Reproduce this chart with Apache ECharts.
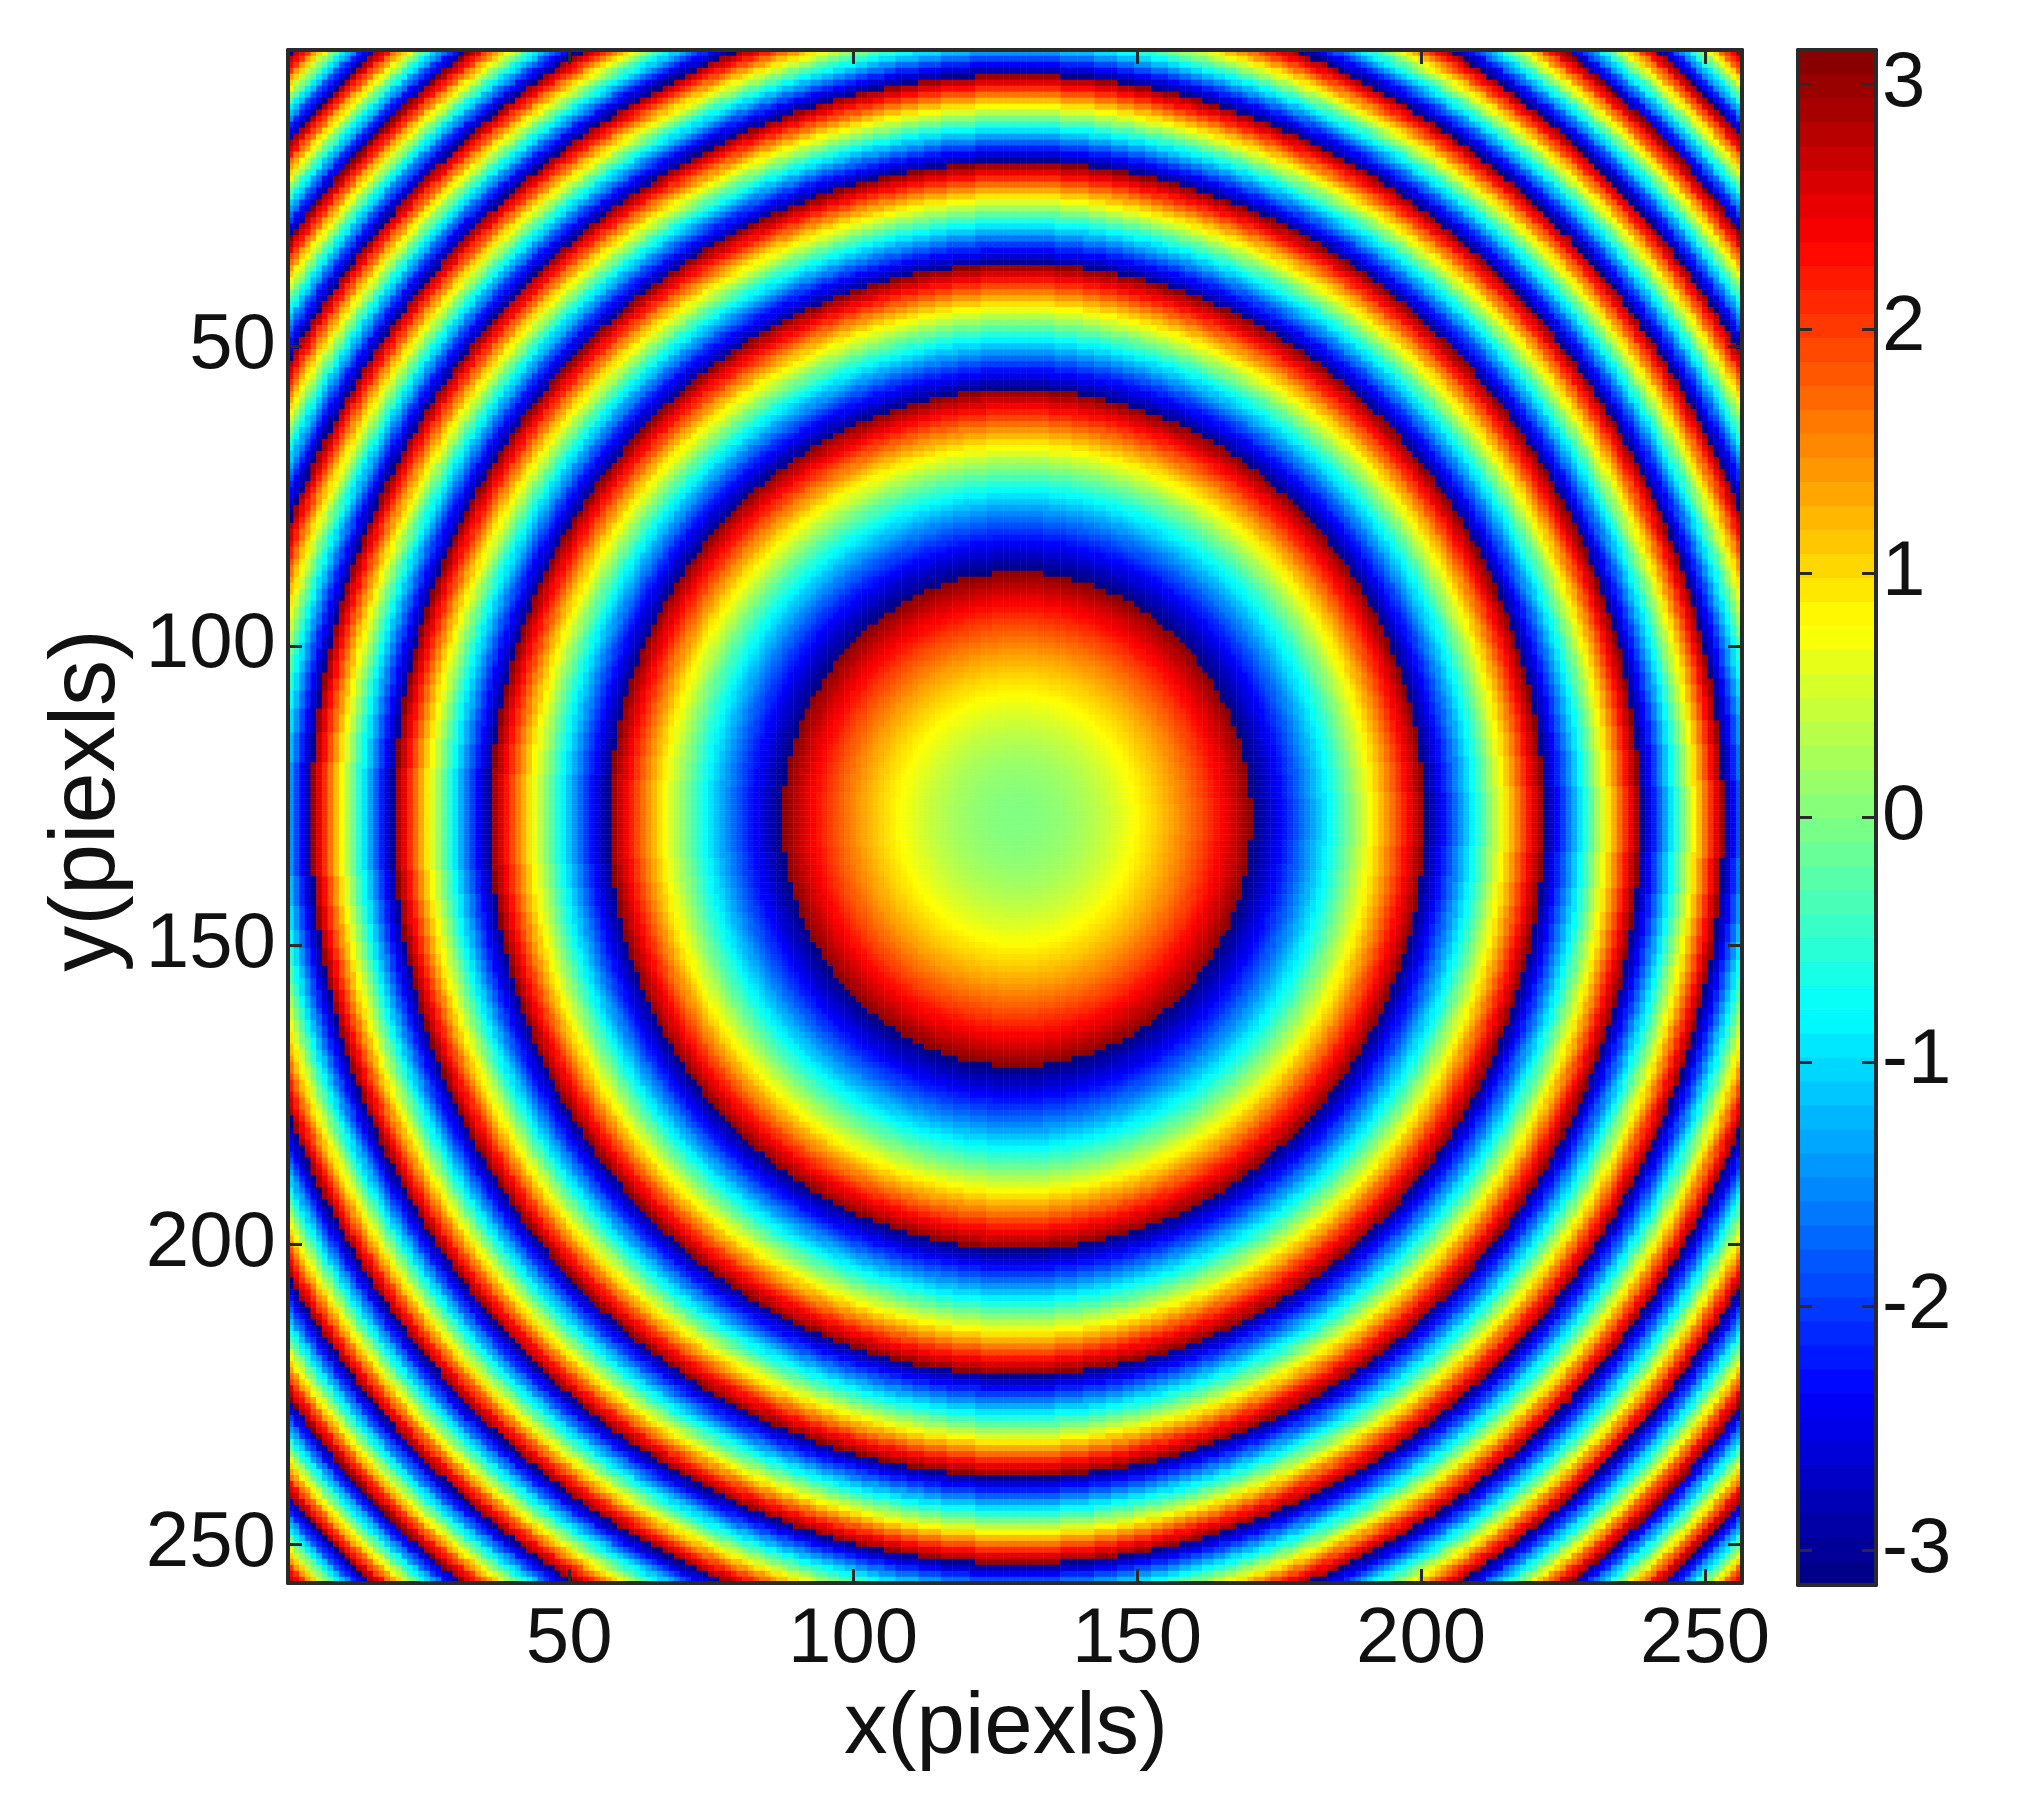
<!DOCTYPE html>
<html>
<head>
<meta charset="utf-8">
<title>wrapped phase</title>
<script src="https://cdn.jsdelivr.net/npm/echarts@6/dist/echarts.min.js"></script>
<style>
  html, body { margin: 0; padding: 0; background: #fff; }
  #chart { width: 2019px; height: 1804px; }
</style>
</head>
<body>
<div id="chart"></div>
<script>
// phase estimated from the rings along a ray from their centre, one entry per half pixel of radius
var phaseByRadius = [
  0.00,0.00,0.00,0.00,0.01,0.01,0.02,0.02,0.03,0.04,0.05,0.06,0.07,0.08,0.09,0.10,
  0.12,0.13,0.15,0.17,0.18,0.20,0.22,0.24,0.26,0.29,0.31,0.33,0.36,0.38,0.41,0.44,
  0.47,0.50,0.53,0.56,0.59,0.63,0.66,0.70,0.73,0.77,0.81,0.85,0.89,0.93,0.97,1.01,
  1.05,1.10,1.14,1.19,1.24,1.28,1.33,1.38,1.43,1.49,1.54,1.59,1.65,1.70,1.76,1.81,
  1.87,1.93,1.99,2.05,2.11,2.18,2.24,2.30,2.37,2.44,2.50,2.57,2.64,2.71,2.78,2.85,
  2.93,3.00,3.07,-3.13,-3.06,-2.98,-2.90,-2.82,-2.74,-2.66,-2.58,-2.50,-2.41,-2.33,-2.24,-2.16,
  -2.07,-1.98,-1.89,-1.80,-1.71,-1.62,-1.53,-1.43,-1.34,-1.24,-1.15,-1.05,-0.95,-0.85,-0.75,-0.65,
  -0.55,-0.45,-0.34,-0.24,-0.13,-0.03,0.08,0.19,0.30,0.41,0.52,0.63,0.75,0.86,0.97,1.09,
  1.21,1.32,1.44,1.56,1.68,1.80,1.93,2.05,2.17,2.30,2.42,2.55,2.68,2.81,2.93,3.07,
  -3.09,-2.95,-2.82,-2.69,-2.55,-2.42,-2.28,-2.14,-2.00,-1.87,-1.72,-1.58,-1.44,-1.30,-1.15,-1.01,
  -0.86,-0.72,-0.57,-0.42,-0.27,-0.12,0.03,0.18,0.34,0.49,0.65,0.80,0.96,1.12,1.27,1.43,
  1.59,1.76,1.92,2.08,2.25,2.41,2.58,2.74,2.91,3.08,-3.03,-2.86,-2.69,-2.52,-2.35,-2.17,
  -2.00,-1.82,-1.64,-1.47,-1.29,-1.11,-0.93,-0.75,-0.56,-0.38,-0.20,-0.01,0.18,0.36,0.55,0.74,
  0.93,1.12,1.31,1.50,1.70,1.89,2.09,2.28,2.48,2.68,2.88,3.08,-3.01,-2.80,-2.60,-2.40,
  -2.19,-1.99,-1.78,-1.58,-1.37,-1.16,-0.95,-0.74,-0.53,-0.31,-0.10,0.11,0.33,0.54,0.76,0.98,
  1.20,1.42,1.64,1.86,2.08,2.31,2.53,2.76,2.98,-3.07,-2.84,-2.62,-2.38,-2.15,-1.92,-1.69,
  -1.46,-1.22,-0.99,-0.75,-0.51,-0.27,-0.04,0.20,0.45,0.69,0.93,1.17,1.42,1.66,1.91,2.16,
  2.41,2.65,2.90,-3.13,-2.87,-2.62,-2.37,-2.11,-1.86,-1.60,-1.34,-1.09,-0.83,-0.57,-0.31,-0.04,
  0.22,0.48,0.75,1.01,1.28,1.55,1.82,2.08,2.35,2.63,2.90,-3.11,-2.84,-2.56,-2.29,-2.01,
  -1.73,-1.46,-1.18,-0.90,-0.62,-0.33,-0.05,0.23,0.52,0.80,1.09,1.38,1.67,1.96,2.25,2.54,
  2.83,3.12,-2.87,-2.57,-2.28,-1.98,-1.68,-1.38,-1.08,-0.78,-0.48,-0.18,0.12,0.43,0.73,1.04,
  1.34,1.65,1.96,2.27,2.58,2.89,-3.08,-2.77,-2.45,-2.14,-1.82,-1.50,-1.19,-0.87,-0.55,-0.23,
  0.09,0.42,0.74,1.06,1.39,1.71,2.04,2.37,2.70,3.03,-2.93,-2.59,-2.26
];
// the 64 colour levels of the colour bar, bottom to top
var cbarLevels = [
  -3.09,-2.99,-2.90,-2.80,-2.70,-2.60,-2.50,-2.41,-2.31,-2.21,-2.11,-2.01,-1.91,-1.82,-1.72,-1.62,
  -1.52,-1.42,-1.33,-1.23,-1.13,-1.03,-0.93,-0.83,-0.74,-0.64,-0.54,-0.44,-0.34,-0.25,-0.15,-0.05,
  0.05,0.15,0.25,0.34,0.44,0.54,0.64,0.74,0.83,0.93,1.03,1.13,1.23,1.33,1.42,1.52,
  1.62,1.72,1.82,1.91,2.01,2.11,2.21,2.31,2.41,2.50,2.60,2.70,2.80,2.90,2.99,3.09
];
var xTicks = [50, 100, 150, 200, 250];
var yTicks = [50, 100, 150, 200, 250];
var cbarTicks = [-3, -2, -1, 0, 1, 2, 3];
var imageSize = 256;
var centerX = 128.9, centerY = 129; // ring centre, in pixels of the image

var jet = ['#000080', '#0000ff', '#0080ff', '#00ffff', '#80ff80', '#ffff00', '#ff8000', '#ff0000', '#800000'];
var FONT = '"Liberation Sans", Arial, sans-serif';
var LINE = '#2a2a2a';

var pixels = [];
for (var i = 1; i <= imageSize; i++) pixels.push(String(i));

// each cell takes the phase of its radius
var cells = [];
for (var y = 1; y <= imageSize; y++) {
  for (var x = 1; x <= imageSize; x++) {
    var r = Math.sqrt((x - centerX) * (x - centerX) + (y - centerY) * (y - centerY));
    cells.push([x - 1, y - 1, phaseByRadius[Math.round(r * 2)]]);
  }
}
var cbarCells = cbarLevels.map(function (v, idx) { return [0, idx, v]; });

function onTicks(list) {
  return function (index, value) { return list.indexOf(Number(value)) >= 0; };
}
var tickLine = { show: true, inside: true, length: 14, lineStyle: { color: LINE, width: 3 } };
var edge = { show: true, onZero: false, lineStyle: { color: LINE, width: 4 } };

function imageAxis(position, list, labels, margin, extra) {
  return Object.assign({
    type: 'category',
    gridIndex: 0,
    position: position,
    data: pixels,
    z: 5,
    axisLine: edge,
    axisTick: Object.assign({}, tickLine, { alignWithLabel: true, interval: onTicks(list) }),
    axisLabel: {
      show: labels,
      interval: onTicks(list),
      margin: margin,
      color: '#111',
      fontFamily: FONT,
      fontSize: 78
    },
    splitLine: { show: false }
  }, extra || {});
}

function cbarValueAxis(position, labels) {
  return {
    type: 'value',
    gridIndex: 1,
    position: position,
    min: -Math.PI,
    max: Math.PI,
    z: 5,
    axisLine: edge,
    axisTick: Object.assign({}, tickLine, { customValues: cbarTicks }),
    axisLabel: {
      show: labels,
      customValues: cbarTicks,
      margin: 6,
      padding: [5, 0, 0, 0],
      color: '#111',
      fontFamily: FONT,
      fontSize: 78
    },
    splitLine: { show: false }
  };
}

function cbarEdge(position) {
  return {
    type: 'category',
    gridIndex: 1,
    position: position,
    data: ['c'],
    z: 5,
    axisLine: edge,
    axisTick: { show: false },
    axisLabel: { show: false },
    splitLine: { show: false }
  };
}

var chart = echarts.init(document.getElementById('chart'), null, { renderer: 'canvas' });
chart.setOption({
  animation: false,
  backgroundColor: '#fff',
  tooltip: { show: false },
  grid: [
    { left: 288, top: 50, width: 1454, height: 1533 },
    { left: 1798, top: 50, width: 78, height: 1535 }
  ],
  xAxis: [
    imageAxis('bottom', xTicks, true, 18, {
      name: 'x(piexls)',
      nameLocation: 'middle',
      nameGap: 103,
      nameTextStyle: { color: '#111', fontFamily: FONT, fontSize: 87, padding: [0, 18, 0, 0] }
    }),
    imageAxis('top', xTicks, false, 8),
    cbarEdge('bottom'),
    cbarEdge('top')
  ],
  yAxis: [
    imageAxis('left', yTicks, true, 12, {
      inverse: true,
      name: 'y(piexls)',
      nameLocation: 'middle',
      nameGap: 153,
      nameTextStyle: { color: '#111', fontFamily: FONT, fontSize: 92, padding: [0, 0, 0, 32] }
    }),
    imageAxis('right', yTicks, false, 8, { inverse: true }),
    {
      type: 'category',
      gridIndex: 1,
      show: false,
      data: cbarLevels.map(String)
    },
    cbarValueAxis('left', false),
    cbarValueAxis('right', true)
  ],
  visualMap: {
    show: false,
    type: 'continuous',
    seriesIndex: [0, 1],
    dimension: 2,
    min: -Math.PI,
    max: Math.PI,
    inRange: { color: jet }
  },
  series: [
    {
      type: 'heatmap',
      xAxisIndex: 0,
      yAxisIndex: 0,
      data: cells,
      progressive: 0,
      silent: true,
      z: 2
    },
    {
      type: 'heatmap',
      xAxisIndex: 2,
      yAxisIndex: 2,
      data: cbarCells,
      progressive: 0,
      silent: true,
      z: 2
    }
  ]
});
</script>
</body>
</html>
